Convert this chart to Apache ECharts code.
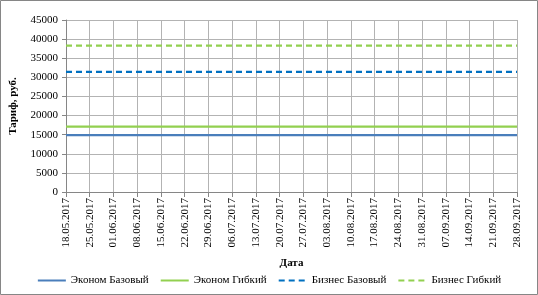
<!DOCTYPE html>
<html><head><meta charset="utf-8">
<script src="https://cdn.jsdelivr.net/npm/echarts@6/dist/echarts.min.js"></script>
<style>html,body{margin:0;padding:0;background:#fff}#c{width:538px;height:295px}</style>
</head><body><div id="c"></div>
<script>
const dates = ["18.05.2017","25.05.2017","01.06.2017","08.06.2017","15.06.2017","22.06.2017","29.06.2017","06.07.2017","13.07.2017","20.07.2017","27.07.2017","03.08.2017","10.08.2017","17.08.2017","24.08.2017","31.08.2017","07.09.2017","14.09.2017","21.09.2017","28.09.2017"];
const economBase = [14900,14900,14900,14900,14900,14900,14900,14900,14900,14900,14900,14900,14900,14900,14900,14900,14900,14900,14900,14900];
const economFlex = [17100,17100,17100,17100,17100,17100,17100,17100,17100,17100,17100,17100,17100,17100,17100,17100,17100,17100,17100,17100];
const businessBase = [31400,31400,31400,31400,31400,31400,31400,31400,31400,31400,31400,31400,31400,31400,31400,31400,31400,31400,31400,31400];
const businessFlex = [38300,38300,38300,38300,38300,38300,38300,38300,38300,38300,38300,38300,38300,38300,38300,38300,38300,38300,38300,38300];
const seriesNames = ["Эконом Базовый","Эконом Гибкий","Бизнес Базовый","Бизнес Гибкий"];

const font = "'Liberation Serif','Times New Roman',serif";
const chart = echarts.init(document.getElementById('c'), null, {renderer:'canvas'});
function mk(name, data, color, type, width){
  return {name, type:'line', data, showSymbol:false, symbol:'none', animation:false,
    lineStyle:{color, type, width}, itemStyle:{color}};
}
chart.setOption({
  animation:false,
  graphic:[{type:'rect', shape:{x:0.5,y:0.5,width:537,height:294}, style:{fill:'none',stroke:'#868686',lineWidth:1}, silent:true}],
  grid:{left:66,right:21,top:20,bottom:103},
  legend:{top:270,left:'center',itemWidth:28,itemHeight:10,itemGap:11,
    itemStyle:{opacity:0},
    textStyle:{fontFamily:font,fontSize:11,color:'#000'},
    data:seriesNames},
  xAxis:{type:'category',data:dates,boundaryGap:false,
    name:'Дата',nameLocation:'middle',nameGap:66,
    nameTextStyle:{fontFamily:font,fontSize:11,fontWeight:'bold',color:'#000'},
    axisLine:{lineStyle:{color:'#868686'}},
    axisTick:{show:true,length:5,lineStyle:{color:'#868686'}},
    axisLabel:{rotate:90,fontFamily:font,fontSize:11,color:'#000',margin:6,interval:0},
    splitLine:{show:true,lineStyle:{color:'#b3b3b3',width:1}}},
  yAxis:{type:'value',min:0,max:45000,interval:5000,
    name:'Тариф, руб.',nameLocation:'middle',nameGap:47,
    nameTextStyle:{fontFamily:font,fontSize:11,fontWeight:'bold',color:'#000'},
    axisLine:{show:true,lineStyle:{color:'#868686'}},
    axisTick:{show:true,length:4,lineStyle:{color:'#868686'}},
    axisLabel:{fontFamily:font,fontSize:11,color:'#000',margin:8,formatter:function(v){return String(v);}},
    splitLine:{show:true,lineStyle:{color:'#b3b3b3',width:1}}},
  series:[
    mk(seriesNames[0], economBase, '#4a7ebb', 'solid', 2.25),
    mk(seriesNames[1], economFlex, '#92d050', 'solid', 2.25),
    mk(seriesNames[2], businessBase, '#0070c0', [6,4], 2.25),
    mk(seriesNames[3], businessFlex, '#92d050', [6,4], 2.25)
  ]
});
</script></body></html>
